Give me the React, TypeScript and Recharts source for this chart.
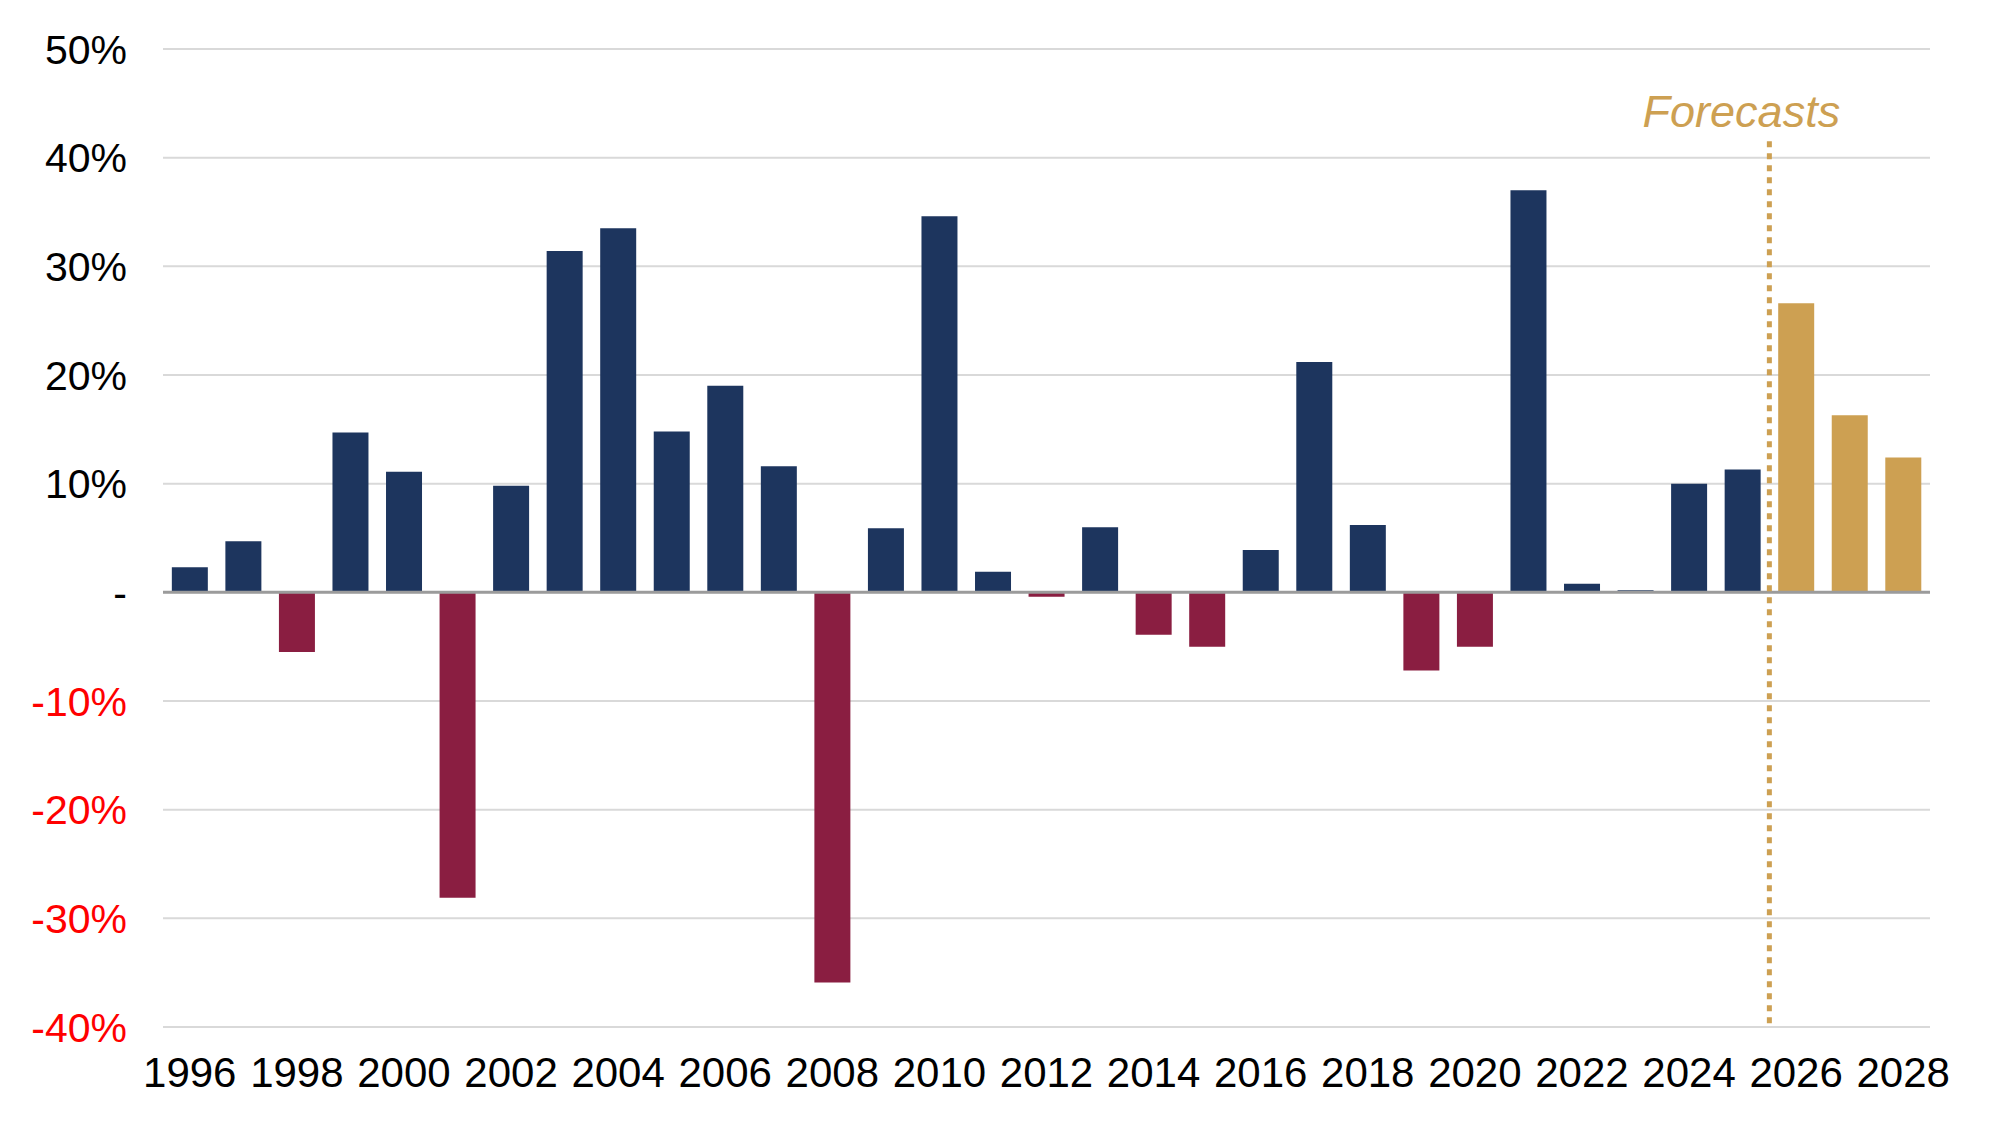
import { Bar, BarChart, CartesianGrid, Cell, ReferenceLine, XAxis, YAxis } from 'recharts'

// Annual growth, % — 2026 onward are forecasts
const years = [
  '1996', '1997', '1998', '1999', '2000', '2001', '2002', '2003', '2004', '2005', '2006',
  '2007', '2008', '2009', '2010', '2011', '2012', '2013', '2014', '2015', '2016', '2017',
  '2018', '2019', '2020', '2021', '2022', '2023', '2024', '2025', '2026', '2027', '2028',
]
const growth = [
  2.3, 4.7, -5.5, 14.7, 11.1, -28.1, 9.8, 31.4, 33.5, 14.8, 19.0,
  11.6, -35.9, 5.9, 34.6, 1.9, -0.4, 6.0, -3.9, -5.0, 3.9, 21.2,
  6.2, -7.2, -5.0, 37.0, 0.8, 0.2, 10.0, 11.3, 26.6, 16.3, 12.4,
]
const forecastYears = ['2026', '2027', '2028']
const yTicks = [-40, -30, -20, -10, 0, 10, 20, 30, 40, 50]

const COLORS = {
  up: '#1D355E',
  down: '#8A1E41',
  forecast: '#CDA052',
  grid: '#D9D9D9',
  zero: '#9B9B9B',
}
const FONT = '"Liberation Sans", Arial, sans-serif'

const data = years.map((year, i) => ({ year, value: growth[i] }))

function YTick({ x, y, payload }: { x?: number; y?: number; payload?: { value: number } }) {
  const v = payload?.value ?? 0
  const label = v === 0 ? '-' : `${v}%`
  return (
    <text
      x={x}
      y={y}
      dy="0.36em"
      textAnchor="end"
      fill={v < 0 ? '#FF0000' : '#000000'}
      fontSize={41}
      fontFamily={FONT}
    >
      {label}
    </text>
  )
}

export default function App() {
  return (
    <BarChart
      width={1981}
      height={1113}
      data={data}
      margin={{ top: 41, right: 59, bottom: 64, left: 0 }}
      barCategoryGap="16.5%"
    >
      <CartesianGrid stroke={COLORS.grid} strokeWidth={2} vertical={false} />
      <XAxis
        dataKey="year"
        interval={1}
        axisLine={false}
        tickLine={false}
        tickSize={0}
        tickMargin={30}
        tick={{ fill: '#000', fontSize: 42, fontFamily: FONT }}
      />
      <YAxis
        width={155}
        domain={[-40, 50]}
        ticks={yTicks}
        interval={0}
        axisLine={false}
        tickLine={false}
        tickSize={0}
        tickMargin={36}
        tick={<YTick />}
      />
      <ReferenceLine y={0} stroke={COLORS.zero} strokeWidth={3} />
      <Bar dataKey="value" isAnimationActive={false}>
        {data.map((d, i) => (
          <Cell
            key={i}
            fill={
              forecastYears.includes(d.year)
                ? COLORS.forecast
                : d.value < 0
                  ? COLORS.down
                  : COLORS.up
            }
          />
        ))}
      </Bar>
      <ReferenceLine
        segment={[
          { x: '2025', y: 41.5 },
          { x: '2025', y: -40 },
        ]}
        position="end"
        stroke={COLORS.forecast}
        strokeWidth={5}
        strokeDasharray="6 6"
        label={{
          value: 'Forecasts',
          position: 'top',
          offset: 14,
          dx: -28,
          fill: COLORS.forecast,
          fontSize: 45,
          fontStyle: 'italic',
          fontFamily: FONT,
        }}
      />
    </BarChart>
  )
}
